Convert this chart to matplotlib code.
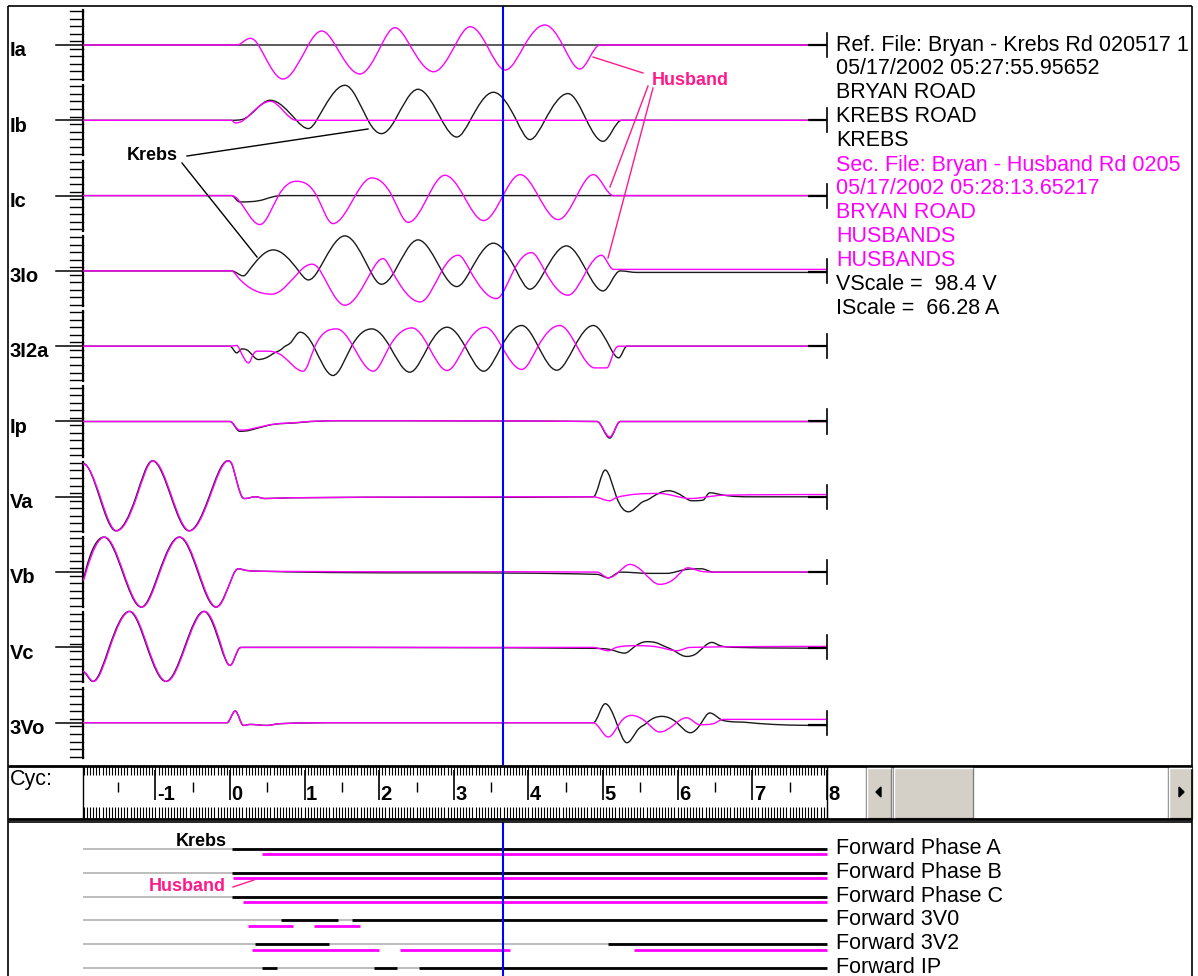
import numpy as np
import matplotlib.pyplot as plt
from matplotlib.path import Path
from matplotlib.patches import PathPatch, Rectangle, Polygon

plt.rcParams['font.family'] = ['Liberation Sans', 'DejaVu Sans']

W, H = 1198, 976

CHANNELS = ["Ia", "Ib", "Ic", "3Io", "3I2a", "Ip", "Va", "Vb", "Vc", "3Vo"]

# samples (cycles, ruler divisions) at the turning points of every trace
ia_krebs = [(-1.97, 0.0), (8.0, 0.0)]
ia_husband = [(-1.97, 0.0), (0.09, 0.0), (0.27, 0.89), (0.38, 0.0), (0.71, -4.52), (1.05, 0.0),
              (1.23, 1.86), (1.41, 0.0), (1.74, -3.85), (2.03, 0.0), (2.21, 2.30), (2.41, 0.0),
              (2.73, -3.55), (3.02, 0.0), (3.22, 2.43), (3.44, 0.0), (3.69, -3.32), (3.95, 0.0),
              (4.22, 2.66), (4.46, 0.0), (4.69, -3.19), (4.96, 0.0), (8.0, 0.0)]

ib_krebs = [(-1.97, 0.0), (0.02, 0.0), (0.17, 0.13), (0.54, 2.66), (0.89, 0.0), (1.05, -1.10),
            (1.16, 0.0), (1.54, 4.65), (1.85, 0.0), (2.03, -1.77), (2.21, 0.0), (2.52, 4.12),
            (2.84, 0.0), (3.04, -2.22), (3.22, 0.0), (3.53, 3.72), (3.84, 0.0), (4.02, -2.56),
            (4.22, 0.0), (4.53, 3.55), (4.78, 0.0), (5.00, -2.79), (5.25, 0.0), (8.0, 0.0)]
ib_husband = [(-1.97, 0.0), (0.02, 0.0), (0.07, -0.35), (0.18, 0.0), (0.54, 2.52), (0.89, 0.0),
              (8.0, 0.0)]

ic_krebs = [(-1.97, 0.0), (0.02, 0.0), (0.13, -0.84), (0.45, -0.53), (0.60, -0.10), (0.75, 0.0),
            (8.0, 0.0)]
ic_husband = [(-1.97, 0.0), (0.02, 0.0), (0.40, -3.85), (0.65, 0.0), (0.89, 1.90), (1.16, 0.0),
              (1.38, -3.72), (1.68, 0.0), (1.90, 2.35), (2.17, 0.0), (2.39, -3.55), (2.66, 0.0),
              (2.88, 2.70), (3.13, 0.0), (3.40, -3.32), (3.66, 0.0), (3.89, 2.79), (4.13, 0.0),
              (4.40, -3.19), (4.65, 0.0), (4.87, 2.79), (5.14, 0.0), (8.0, 0.0)]

i0_krebs = [(-1.97, 0.0), (0.02, 0.0), (0.18, -0.66), (0.25, 0.0), (0.58, 2.79), (0.92, 0.0),
            (1.05, -1.20), (1.18, 0.0), (1.54, 4.65), (1.88, 0.0), (2.03, -1.77), (2.21, 0.0),
            (2.52, 4.12), (2.84, 0.0), (3.04, -2.08), (3.22, 0.0), (3.53, 3.68), (3.84, 0.0),
            (4.02, -2.43), (4.22, 0.0), (4.51, 3.32), (4.78, 0.0), (5.00, -2.66), (5.23, 0.0),
            (5.45, -0.20), (8.0, -0.20)]
i0_husband = [(-1.97, 0.0), (0.02, 0.0), (0.11, -0.89), (0.56, -3.09), (0.94, 0.0), (1.10, 0.89),
              (1.21, 0.0), (1.54, -4.56), (1.90, 0.0), (2.05, 1.63), (2.17, 0.0), (2.55, -4.12),
              (2.84, 0.0), (3.06, 2.08), (3.22, 0.0), (3.57, -3.68), (3.80, 0.0), (4.04, 2.43),
              (4.22, 0.0), (4.53, -3.23), (4.78, 0.0), (4.98, 2.08), (5.14, 0.20), (8.0, 0.20)]

i2_krebs = [(-1.97, 0.0), (0.0, 0.0), (0.09, -0.89), (0.16, -0.36), (0.25, -0.66), (0.38, -1.77),
            (0.56, -1.10), (0.71, -0.23), (0.83, 0.66), (0.94, 1.86), (1.12, 0.0), (1.38, -3.89),
            (1.63, 0.0), (1.90, 2.30), (2.14, 0.0), (2.41, -3.45), (2.66, 0.0), (2.91, 2.52),
            (3.15, 0.0), (3.40, -3.32), (3.64, 0.0), (3.91, 2.75), (4.13, 0.0), (4.38, -3.19),
            (4.62, 0.0), (4.87, 2.75), (5.11, -0.44), (5.21, -1.55), (5.32, 0.0), (8.0, 0.0)]
i2_husband = [(-1.97, 0.0), (0.0, 0.0), (0.09, 0.10), (0.13, -0.44), (0.25, -2.22), (0.31, -1.10),
              (0.38, -0.66), (0.49, -0.66), (0.71, -1.33), (0.98, -3.32), (1.14, 0.0), (1.43, 2.30),
              (1.65, 0.0), (1.92, -3.32), (2.14, 0.0), (2.44, 2.43), (2.66, 0.0), (2.91, -3.23),
              (3.15, 0.0), (3.42, 2.52), (3.64, 0.0), (3.91, -3.09), (4.13, 0.0), (4.42, 2.75),
              (4.65, 0.0), (4.89, -2.88), (5.05, -2.88), (5.14, -0.89), (5.21, 0.0), (8.0, 0.0)]

ip_krebs = [(-1.97, 0.0), (0.0, 0.0), (0.13, -1.30), (0.27, -1.15), (0.49, -0.57), (0.94, -0.13),
            (1.47, 0.10), (4.92, 0.0), (5.09, -2.20), (5.23, 0.0), (8.0, 0.0)]
ip_husband = [(-1.97, 0.0), (0.0, 0.0), (0.13, -1.15), (0.27, -1.02), (0.49, -0.53), (0.94, -0.10),
              (1.47, 0.10), (4.92, 0.0), (5.09, -2.05), (5.23, 0.0), (8.0, 0.0)]

va_krebs = [(-1.97, 4.45), (-1.75, 0.0), (-1.53, -4.52), (-1.26, 0.0), (-1.04, 4.78), (-0.79, 0.0),
            (-0.55, -4.52), (-0.28, 0.0), (-0.03, 4.78), (0.04, 3.90), (0.16, 0.0), (0.20, -0.23),
            (0.34, 0.0), (0.47, -0.23), (0.80, -0.13), (4.87, 0.0), (5.03, 3.55), (5.18, 0.0),
            (5.34, -1.99), (5.50, -0.89), (5.63, -0.23), (5.88, 0.80), (6.08, 0.0), (6.19, -0.53),
            (6.34, -0.44), (6.43, 0.53), (6.61, 0.23), (7.00, 0.0), (8.0, 0.0)]
va_husband = [(-1.97, 4.38), (-1.74, 0.0), (-1.52, -4.52), (-1.25, 0.0), (-1.03, 4.78), (-0.78, 0.0),
              (-0.54, -4.52), (-0.27, 0.0), (-0.02, 4.78), (0.04, 3.98), (0.16, 0.0), (0.20, -0.23),
              (0.34, 0.0), (0.47, -0.23), (0.80, -0.13), (4.87, 0.0), (5.09, -0.53), (5.18, -0.10),
              (5.76, 0.44), (6.17, -0.23), (6.60, 0.20), (8.0, 0.30)]

vb_krebs = [(-1.97, -1.00), (-1.94, 0.0), (-1.69, 4.65), (-1.44, 0.0), (-1.19, -4.65), (-0.95, 0.0),
            (-0.68, 4.65), (-0.43, 0.0), (-0.19, -4.65), (0.04, -0.44), (0.11, 0.44), (0.22, 0.22),
            (0.50, 0.10), (4.92, -0.30), (5.07, -0.76), (5.23, 0.0), (5.63, -0.17), (5.85, -0.17),
            (6.12, 0.36), (6.32, 0.44), (6.48, 0.0), (8.0, 0.0)]
vb_husband = [(-1.97, -1.06), (-1.93, 0.0), (-1.68, 4.65), (-1.43, 0.0), (-1.18, -4.65), (-0.94, 0.0),
              (-0.67, 4.65), (-0.42, 0.0), (-0.18, -4.65), (0.04, -0.44), (0.11, 0.44), (0.22, 0.22),
              (0.50, 0.10), (4.92, 0.0), (5.07, -0.76), (5.21, 0.0), (5.36, 1.02), (5.54, 0.0),
              (5.76, -1.63), (5.97, -0.76), (6.14, 0.57), (6.30, 0.13), (6.48, 0.0), (8.0, 0.0)]

vc_krebs = [(-1.97, -3.25), (-1.84, -4.52), (-1.62, 0.0), (-1.35, 4.78), (-1.11, 0.0), (-0.86, -4.52),
            (-0.61, 0.0), (-0.35, 4.78), (-0.12, 0.0), (0.0, -2.39), (0.11, -0.30), (0.16, 0.0),
            (0.50, 0.0), (4.87, -0.13), (5.09, -0.27), (5.29, -0.76), (5.41, 0.0), (5.59, 0.76),
            (5.76, 0.44), (5.99, -0.66), (6.12, -1.20), (6.26, -0.76), (6.46, 0.66), (6.57, 0.23),
            (6.80, 0.0), (8.0, -0.10)]
vc_husband = [(-1.97, -3.19), (-1.83, -4.52), (-1.61, 0.0), (-1.34, 4.78), (-1.10, 0.0), (-0.85, -4.52),
              (-0.60, 0.0), (-0.34, 4.78), (-0.11, 0.0), (0.0, -2.39), (0.11, -0.30), (0.16, 0.0),
              (0.50, 0.0), (4.87, 0.0), (5.07, -0.44), (5.18, 0.0), (5.45, 0.23), (5.76, 0.0),
              (5.99, -0.44), (6.17, 0.0), (8.0, 0.13)]

v0_krebs = [(-1.97, 0.0), (-0.04, 0.0), (0.07, 1.55), (0.18, -0.36), (0.27, -0.23), (0.49, -0.36),
            (0.67, -0.13), (1.50, 0.0), (4.87, 0.0), (5.03, 2.52), (5.18, 0.0), (5.32, -2.66),
            (5.45, -1.15), (5.59, 0.0), (5.79, 0.84), (5.99, 0.0), (6.17, -1.33), (6.32, 0.0),
            (6.43, 1.29), (6.61, 0.30), (6.97, 0.0), (7.19, -0.17), (8.0, -0.36)]
v0_husband = [(-1.97, 0.0), (-0.04, 0.0), (0.07, 1.55), (0.18, -0.36), (0.27, -0.23), (0.49, -0.36),
              (0.67, -0.13), (1.50, 0.0), (4.87, 0.0), (5.07, -1.90), (5.23, 0.0), (5.38, 0.97),
              (5.59, 0.0), (5.76, -1.24), (5.94, -0.36), (6.12, 0.66), (6.30, -0.27), (6.48, -0.13),
              (6.61, 0.44), (8.0, 0.44)]

KREBS = [ia_krebs, ib_krebs, ic_krebs, i0_krebs, i2_krebs,
         ip_krebs, va_krebs, vb_krebs, vc_krebs, v0_krebs]
HUSBAND = [ia_husband, ib_husband, ic_husband, i0_husband, i2_husband,
           ip_husband, va_husband, vb_husband, vc_husband, v0_husband]

CURSOR_CYC = 3.66
RECORD_START, RECORD_END = -1.97, 8.0

# relay element pickup intervals (cycles)
ELEMENTS = ["Forward Phase A", "Forward Phase B", "Forward Phase C",
            "Forward 3V0", "Forward 3V2", "Forward IP"]
krebs_on = [[(0.03, 8.0)], [(0.03, 8.0)], [(0.03, 8.0)],
            [(0.68, 1.45), (1.64, 8.0)],
            [(0.34, 1.33), (5.07, 8.0)],
            [(0.43, 0.63), (1.93, 2.24), (2.53, 8.0)]]
husband_on = [[(0.43, 8.0)], [(0.04, 8.0)], [(0.17, 8.0)],
              [(0.24, 0.84), (1.13, 1.74)],
              [(0.29, 2.00), (2.28, 3.75), (5.42, 8.0)],
              []]

REF_INFO = ["Ref. File: Bryan - Krebs Rd 020517 1", "05/17/2002 05:27:55.95652",
            "BRYAN ROAD", "KREBS ROAD", "KREBS"]
SEC_INFO = ["Sec. File: Bryan - Husband Rd 0205", "05/17/2002 05:28:13.65217",
            "BRYAN ROAD", "HUSBANDS", "HUSBANDS"]
SCALE_INFO = ["VScale =  98.4 V", "IScale =  66.28 A"]

MAGENTA = '#ff00ff'
PINK = '#ff1a8c'
INK = '#1a1a1a'

# screen layout: 74.6 px per cycle, cycle 0 at x=230; 7.53 px per division
T0_PX, PX_PER_CYC = 230, 74.6
Y0_PX, PX_PER_DIV = 45, 7.53
ROW_DIV = 10


def cyc(px):
    return (px - T0_PX) / PX_PER_CYC


def div(py):
    return (Y0_PX - py) / PX_PER_DIV


def px_axes(fig, x0, y0, x1, y1):
    ax = fig.add_axes([x0 / W, 1 - y1 / H, (x1 - x0) / W, (y1 - y0) / H])
    ax.set_axis_off()
    return ax


def trace_path(points, offset):
    # cubic Hermite through the samples, emitted as Bezier segments
    t = np.array([p[0] for p in points], float)
    v = np.array([p[1] for p in points], float) + offset
    n = len(t)
    sec = np.diff(v) / np.diff(t)
    m = np.zeros(n)
    for i in range(1, n - 1):
        a, b = sec[i - 1], sec[i]
        if a * b > 0:
            m[i] = np.sign(a) * min(0.75 * abs(a + b), 3 * min(abs(a), abs(b)))
    verts = [(t[0], v[0])]
    codes = [Path.MOVETO]
    for i in range(n - 1):
        h = t[i + 1] - t[i]
        verts += [(t[i] + h / 3, v[i] + m[i] * h / 3),
                  (t[i + 1] - h / 3, v[i + 1] - m[i + 1] * h / 3),
                  (t[i + 1], v[i + 1])]
        codes += [Path.CURVE4] * 3
    return Path(verts, codes)


fig = plt.figure(figsize=(W / 100, H / 100), dpi=100)
fig.patch.set_facecolor('white')

# ---- waveform panel ----
ax = px_axes(fig, 8, 6, 1192, 765)
ax.set_xlim(cyc(8), cyc(1192))
ax.set_ylim(div(765), div(6))

for i, name in enumerate(CHANNELS):
    base = -ROW_DIV * i
    # scale ruler on the left
    ax.plot([cyc(56), cyc(83)], [base, base], color='black', lw=1.1)
    ax.plot([RECORD_START, RECORD_START], [base - 4.65, base + 4.65], color='black', lw=1.6)
    for k in [0.5, 1.5, 2.5, 3.5, 4.5]:
        for s in (1, -1):
            ax.plot([cyc(70), RECORD_START], [base + s * k] * 2, color='black', lw=1.0)
    ax.text(cyc(10), base - 1.5, name, fontsize=14.5, fontweight='bold',
            ha='left', va='baseline', color='black')

    ax.add_patch(PathPatch(trace_path(KREBS[i], base), fill=False, edgecolor=INK,
                           lw=1.0, zorder=2))
    ax.add_patch(PathPatch(trace_path(HUSBAND[i], base), fill=False, edgecolor=MAGENTA,
                           lw=1.0, zorder=3))
    end_v = KREBS[i][-1][1] + base
    ax.plot([cyc(808), RECORD_END], [end_v, end_v], color='black', lw=1.6, zorder=3,
            solid_capstyle='butt')
    ax.plot([RECORD_END, RECORD_END], [base - 1.6, base + 1.6], color='black', lw=1.2, zorder=4)

ax.axvline(CURSOR_CYC, color='#0000ff', lw=1.5, zorder=6)

# leader lines from the trace names
ax.text(cyc(127), div(160), "Krebs", fontsize=13, fontweight='bold', color='black',
        ha='left', va='baseline')
ax.plot([cyc(187), cyc(368)], [div(156), div(129)], color='black', lw=1.0, zorder=4)
ax.plot([cyc(182), cyc(257)], [div(163), div(257)], color='black', lw=1.0, zorder=4)
ax.text(cyc(652), div(85), "Husband", fontsize=13, fontweight='bold', color=PINK,
        ha='left', va='baseline')
for x0, y0, x1, y1 in [(643, 73, 593, 57), (648, 86, 610, 187), (653, 88, 608, 258)]:
    ax.plot([cyc(x0), cyc(x1)], [div(y0), div(y1)], color=PINK, lw=1.0, zorder=4)

# file information block
info = ([(s, 'black') for s in REF_INFO] + [(s, MAGENTA) for s in SEC_INFO]
        + [(s, 'black') for s in SCALE_INFO])
for j, (s, c) in enumerate(info):
    ax.text(cyc(836), div(50.5 + 24.0 * j), s, fontsize=15.5, color=c,
            ha='left', va='baseline')

# ---- cycle ruler ----
axr = px_axes(fig, 8, 766, 866, 819)
axr.set_xlim(cyc(8), cyc(866))
axr.set_ylim(819, 766)
minor = np.arange(-47, 193) / 24
axr.vlines(minor, 766, 775, color='black', lw=0.8)
axr.vlines(minor, 807, 819, color='black', lw=0.8)
axr.vlines(np.arange(-1.5, 8, 1.0), 782, 792, color='black', lw=1.0)
axr.vlines(np.arange(-1, 9), 770, 800, color='black', lw=1.2)
axr.vlines([RECORD_START, RECORD_END], 766, 819, color='black', lw=1.0)
for k in range(-1, 9):
    axr.text(k + 0.02, 800, str(k), fontsize=14.5, fontweight='bold', ha='left',
             va='baseline', color='black')

# ---- element status panel ----
axd = px_axes(fig, 8, 822, 1192, 976)
axd.set_xlim(cyc(8), cyc(1192))
ROW_PX, MAG_SHIFT = 23.8, 5.3
axd.set_ylim(-(976 - 849) / ROW_PX, (849 - 822) / ROW_PX)
for r, name in enumerate(ELEMENTS):
    y = -r
    axd.plot([RECORD_START, RECORD_END], [y, y], color='#bdbdbd', lw=1.4,
             solid_capstyle='butt')
    for a, b in krebs_on[r]:
        axd.plot([a, b], [y, y], color='black', lw=2.0, solid_capstyle='butt')
    for a, b in husband_on[r]:
        axd.plot([a, b], [y - MAG_SHIFT / ROW_PX] * 2, color=MAGENTA, lw=2.0,
                 solid_capstyle='butt')
    axd.text(cyc(836), y - 5 / ROW_PX, name, fontsize=15.5, color='black',
             ha='left', va='baseline')
axd.axvline(CURSOR_CYC, color='#0000ff', lw=1.5, zorder=6)
axd.text(cyc(227), -(846 - 849) / ROW_PX, "Krebs", fontsize=13, fontweight='bold',
         color='black', ha='right', va='baseline')
axd.text(cyc(226), -(891 - 849) / ROW_PX, "Husband", fontsize=13, fontweight='bold',
         color=PINK, ha='right', va='baseline')
axd.plot([cyc(233), cyc(254)], [-(887 - 849) / ROW_PX, -(880 - 849) / ROW_PX],
         color=PINK, lw=1.0)

# ---- frames, labels and scrollbar in screen pixels ----
axp = fig.add_axes([0, 0, 1, 1], zorder=10)
axp.set_axis_off()
axp.patch.set_alpha(0)
axp.set_xlim(0, W)
axp.set_ylim(H, 0)
k = dict(color='black', solid_capstyle='butt')
axp.plot([8, 1192], [6, 6], lw=1.2, **k)
axp.plot([8, 8], [6, 976], lw=1.2, **k)
axp.plot([1192, 1192], [6, 976], lw=1.2, **k)
axp.plot([8, 1192], [766, 766], lw=2.0, **k)
axp.plot([8, 1192], [819, 819], lw=2.0, **k)
axp.plot([8, 1192], [822, 822], lw=1.2, **k)
axp.text(10, 785, "Cyc:", fontsize=15.5, ha='left', va='baseline', color='black')

face, shade = '#d4d0c8', '#808080'
axp.add_patch(Rectangle((866, 767), 326, 51, facecolor='white', edgecolor='none'))
for x0, w in [(866, 25), (893, 80), (1168, 24)]:
    axp.add_patch(Rectangle((x0, 767), w, 51, facecolor=face, edgecolor=shade, lw=1.0))
    axp.plot([x0 + 1, x0 + 1, x0 + w - 1], [817, 768, 768], color='white', lw=1.0)
axp.add_patch(Polygon([(876, 792), (881, 787), (881, 797)], closed=True, color='black'))
axp.add_patch(Polygon([(1184, 792), (1179, 787), (1179, 797)], closed=True, color='black'))

fig.savefig('out.png', dpi=100, facecolor='white')
